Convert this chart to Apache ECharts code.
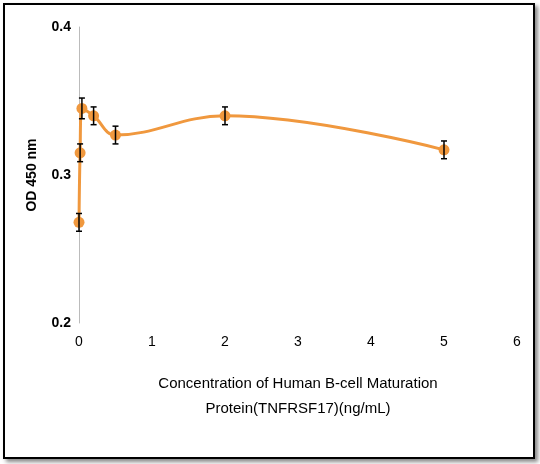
<!DOCTYPE html><html><head><meta charset="utf-8">
<script src="https://cdn.jsdelivr.net/npm/echarts@6/dist/echarts.min.js"></script>
<style>html,body{margin:0;padding:0;background:#fff}#c{width:540px;height:464px}
#frame{position:absolute;left:3px;top:3px;width:528px;height:452px;border:2px solid #000;box-shadow:3px 3px 4px #888;pointer-events:none}</style>
</head><body><div id="c"></div><div id="frame"></div>
<script>
const xValues=[0,0.015,0.04,0.2,0.5,2,5];
const yValues=[0.268,0.315,0.345,0.340,0.327,0.340,0.317];
const errValues=[0.006,0.006,0.007,0.006,0.006,0.006,0.006];
const xTicks=[0,1,2,3,4,5,6];
const yTicks=[0.2,0.3,0.4];
const pts=xValues.map((x,i)=>[x,yValues[i]]);
const errs=xValues.map((x,i)=>[x,yValues[i]-errValues[i],yValues[i]+errValues[i]]);
const F="'Liberation Sans Narrow','Liberation Sans',sans-serif";
const chart=echarts.init(document.getElementById('c'));
chart.setOption({
 animation:false,
 grid:{left:79,right:23,top:27,bottom:141},
 xAxis:{type:'value',min:0,max:6,interval:1,axisLine:{show:false},axisTick:{show:false},splitLine:{show:false},
  axisLabel:{color:'#000',fontSize:14,fontFamily:F,margin:12},
  name:'Concentration of Human B-cell Maturation\nProtein(TNFRSF17)(ng/mL)',nameLocation:'middle',nameGap:48,
  nameTextStyle:{color:'#000',fontSize:15,fontFamily:F,lineHeight:25}},
 yAxis:{type:'value',min:0.2,max:0.4,interval:0.1,axisLine:{show:true,lineStyle:{color:'#bbb'}},axisTick:{show:false},splitLine:{show:false},
  axisLabel:{color:'#000',fontSize:14,fontWeight:'bold',fontFamily:F,formatter:v=>String(+v.toFixed(1))},
  name:'OD 450 nm',nameLocation:'middle',nameGap:40,nameTextStyle:{color:'#000',fontSize:14,fontWeight:'bold',fontFamily:F}},
 series:[
  {type:'line',data:pts,smooth:0.4,symbol:'circle',symbolSize:11,lineStyle:{color:'#f0983e',width:3},itemStyle:{color:'#f0983e'},z:2},
  {type:'custom',data:errs,z:3,renderItem:(p,api)=>{
    const x=api.value(0),lo=api.coord([x,api.value(1)]),hi=api.coord([x,api.value(2)]);
    const s={stroke:'#000',lineWidth:1.5};
    return {type:'group',children:[
     {type:'line',shape:{x1:lo[0],y1:lo[1],x2:hi[0],y2:hi[1]},style:s},
     {type:'line',shape:{x1:lo[0]-3,y1:lo[1],x2:lo[0]+3,y2:lo[1]},style:s},
     {type:'line',shape:{x1:hi[0]-3,y1:hi[1],x2:hi[0]+3,y2:hi[1]},style:s}]};
  }}
 ]
});
</script></body></html>
